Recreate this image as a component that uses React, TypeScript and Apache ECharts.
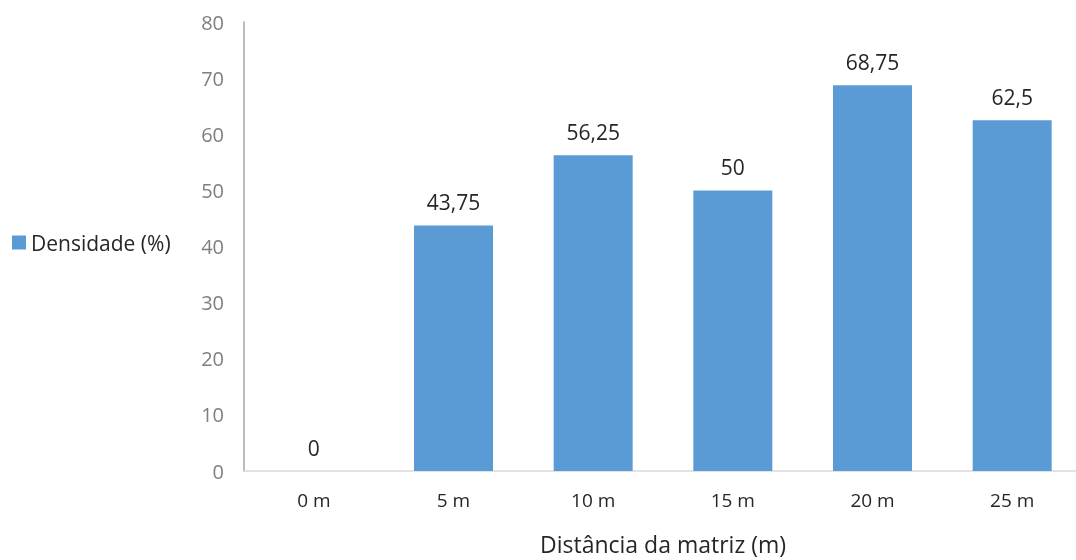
import React, { useEffect, useRef } from "react";
import * as echarts from "echarts";

const categories = ["0 m", "5 m", "10 m", "15 m", "20 m", "25 m"];
const densidade = [0, 43.75, 56.25, 50, 68.75, 62.5];
const seriesName = "Densidade (%)";
const xTitle = "Distância da matriz (m)";

const FONT = "'Open Sans', 'Noto Sans', sans-serif";

export default function App() {
  const ref = useRef<HTMLDivElement>(null);

  useEffect(() => {
    if (!ref.current) return;
    const chart = echarts.init(ref.current, undefined, { renderer: "svg" });
    chart.setOption({
      animation: false,
      textStyle: { fontFamily: FONT },
      legend: {
        data: [seriesName],
        left: 12,
        top: 232,
        padding: 0,
        orient: "vertical",
        icon: "rect",
        itemWidth: 14,
        itemHeight: 14,
        itemGap: 6,
        textStyle: { fontSize: 21, color: "#262626", fontFamily: FONT },
      },
      grid: {
        left: 244,
        top: 22,
        width: 838,
        height: 449,
        containLabel: false,
        outerBoundsMode: "none",
      },
      xAxis: {
        type: "category",
        data: categories,
        name: xTitle,
        nameLocation: "middle",
        nameGap: 61,
        nameTextStyle: { fontSize: 23, color: "#262626", fontFamily: FONT },
        axisLine: { lineStyle: { color: "#d9d9d9", width: 1.5 } },
        axisTick: { show: false },
        axisLabel: { fontSize: 19, color: "#262626", margin: 19, fontFamily: FONT },
      },
      yAxis: {
        type: "value",
        min: 0,
        max: 80,
        interval: 10,
        axisLine: { show: true, lineStyle: { color: "#a6a6a6", width: 1.5 } },
        axisTick: { show: false },
        splitLine: { show: false },
        axisLabel: { fontSize: 20, color: "#7f7f7f", margin: 20, fontFamily: FONT },
      },
      series: [
        {
          name: seriesName,
          type: "bar",
          data: densidade,
          barWidth: 79,
          itemStyle: { color: "#5b9bd5" },
          label: {
            show: true,
            position: "top",
            distance: 13,
            fontSize: 21,
            color: "#262626",
            fontFamily: FONT,
            formatter: (p: any) => String(p.value).replace(".", ","),
          },
        },
      ],
    });
    return () => chart.dispose();
  }, []);

  return (
    <div
      ref={ref}
      style={{ position: "fixed", left: 0, top: 0, width: 1076, height: 560 }}
    />
  );
}
